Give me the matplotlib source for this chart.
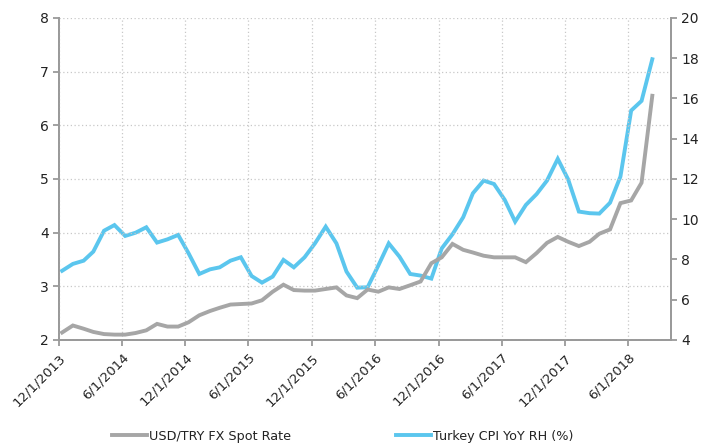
import pandas as pd
import matplotlib
matplotlib.use('Agg')
import matplotlib.pyplot as plt

plt.rcParams['font.family'] = ['DejaVu Sans']

# monthly observations, Dec 2013 .. Aug 2018
months = pd.date_range('2013-12-01', '2018-08-01', freq='MS') + pd.Timedelta(days=9)

usd_try = [2.14, 2.27, 2.21, 2.15, 2.11, 2.10, 2.10, 2.13, 2.18, 2.30,
           2.25, 2.25, 2.33, 2.46, 2.54, 2.60, 2.66, 2.67, 2.68, 2.74,
           2.90, 3.03, 2.93, 2.92, 2.92, 2.95, 2.98, 2.83, 2.78, 2.94,
           2.90, 2.98, 2.95, 3.02, 3.09, 3.43, 3.54, 3.79, 3.68, 3.63,
           3.57, 3.54, 3.54, 3.54, 3.45, 3.62, 3.81, 3.92, 3.83, 3.75,
           3.83, 3.98, 4.06, 4.55, 4.60, 4.93, 6.55]

cpi_yoy = [7.44, 7.78, 7.94, 8.39, 9.43, 9.71, 9.17, 9.33, 9.60, 8.84,
           9.00, 9.22, 8.31, 7.28, 7.51, 7.61, 7.94, 8.11, 7.18, 6.85,
           7.15, 7.98, 7.61, 8.11, 8.80, 9.63, 8.80, 7.40, 6.60, 6.62,
           7.70, 8.80, 8.14, 7.28, 7.20, 7.05, 8.55, 9.25, 10.10, 11.29,
           11.92, 11.75, 10.96, 9.88, 10.71, 11.25, 11.92, 13.00, 11.98, 10.38,
           10.30, 10.28, 10.82, 12.12, 15.40, 15.88, 17.95]

tick_dates = pd.date_range('2013-12-01', '2018-06-01', freq='6MS')
tick_labels = ['12/1/2013', '6/1/2014', '12/1/2014', '6/1/2015', '12/1/2015',
               '6/1/2016', '12/1/2016', '6/1/2017', '12/1/2017', '6/1/2018']

grey = '#a6a6a6'
blue = '#5bc6ee'
axis_col = '#9a9a9a'
text_col = '#222222'

fig = plt.figure(figsize=(7.01, 4.46), dpi=100)
ax = fig.add_axes([0.0842, 0.2377, 0.873, 0.722])
ax2 = ax.twinx()

l1, = ax.plot(months, usd_try, color=grey, linewidth=2.8, solid_joinstyle='miter',
              label='USD/TRY FX Spot Rate', zorder=3)
l2, = ax2.plot(months, cpi_yoy, color=blue, linewidth=2.8, solid_joinstyle='miter',
               label='Turkey CPI YoY RH (%)', zorder=3)

ax.set_xlim(pd.Timestamp('2013-12-01'), pd.Timestamp('2018-10-03'))
ax.set_ylim(2, 8)
ax2.set_ylim(4, 20)
ax.set_yticks(range(2, 9))
ax2.set_yticks(range(4, 21, 2))

ax.set_xticks(tick_dates)
ax.set_xticklabels(tick_labels, rotation=45, ha='right', rotation_mode='anchor')

ax.grid(True, color='#c8c8c8', linestyle=(0, (1, 2)), linewidth=0.9)
ax.set_axisbelow(True)

for a in (ax, ax2):
    a.spines['top'].set_visible(False)
    for s in ('left', 'right', 'bottom'):
        a.spines[s].set_color(axis_col)
        a.spines[s].set_linewidth(1.3)
    a.tick_params(colors=axis_col, labelcolor=text_col, labelsize=10,
                  length=4, width=1.3)
ax.tick_params(axis='x', pad=4, labelsize=9.5)
ax.set_zorder(ax2.get_zorder() + 1)
ax.patch.set_visible(False)

fig.legend(handles=[l1, l2], loc='center', bbox_to_anchor=(0.489, 0.022),
           ncol=2, frameon=False, fontsize=9.2, handlelength=2.75,
           handletextpad=0.15, columnspacing=8.2, labelcolor=text_col)

fig.savefig('out.png', dpi=100)
